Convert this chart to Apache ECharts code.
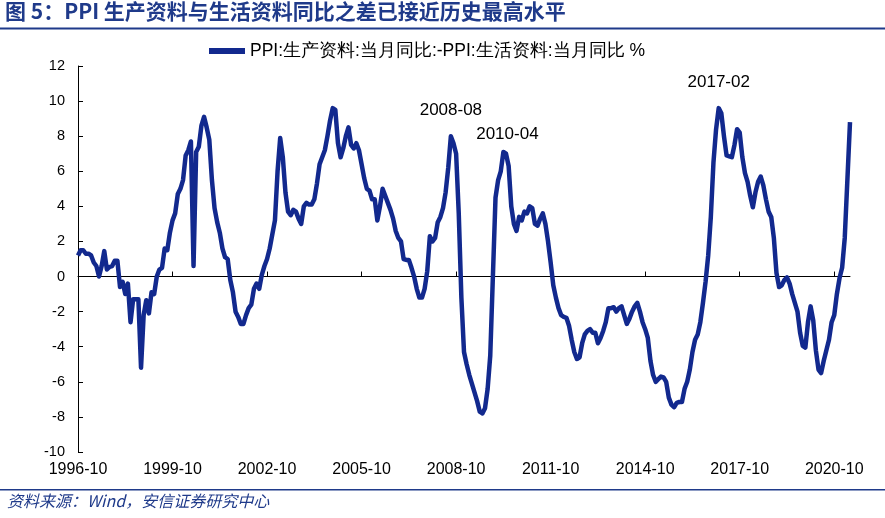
<!DOCTYPE html>
<html><head><meta charset="utf-8">
<script src="https://cdn.jsdelivr.net/npm/echarts@6/dist/echarts.min.js"></script>
<style>html,body{margin:0;padding:0;background:#fff}#c{width:885px;height:518px}</style>
</head><body><div id="c"></div>
<script>
const startYear = 1996, startMonth = 10, monthCount = 295;
const seriesName = 'PPI:生产资料:当月同比:-PPI:生活资料:当月同比 %';
const values = [
 1.2,1.5,1.5,1.3,1.3,1.2,0.8,0.6,0.0,0.6,1.45,0.4,
 0.55,0.6,0.9,0.9,-0.6,-0.3,-1.0,-0.4,-2.6,-1.3,-1.3,-1.3,
 -5.2,-2.2,-1.35,-2.1,-0.9,-1.0,0.0,0.4,0.5,1.6,1.5,2.5,
 3.2,3.6,4.7,5.0,5.5,6.9,7.2,7.7,0.6,7.1,7.4,8.6,
 9.1,8.5,7.8,5.5,3.9,3.1,2.5,1.6,1.1,1.0,-0.2,-0.9,
 -2.0,-2.3,-2.7,-2.7,-2.2,-1.8,-1.6,-0.7,-0.4,-0.7,0.1,0.6,
 1.0,1.6,2.4,3.2,6.0,7.9,6.8,4.8,3.7,3.5,3.8,3.7,
 3.3,3.0,4.0,4.2,4.1,4.1,4.4,5.3,6.4,6.8,7.2,8.0,
 8.9,9.6,9.5,7.6,6.8,7.3,8.0,8.5,7.5,7.3,7.6,7.2,
 6.4,5.6,5.0,4.9,4.4,4.4,3.2,4.0,5.0,4.6,4.2,3.8,
 3.3,2.6,2.2,2.0,1.0,0.95,0.95,0.5,0.0,-0.7,-1.2,-1.2,
 -0.7,0.3,2.3,2.0,2.2,3.1,3.4,3.9,4.8,6.2,8.0,7.6,
 7.0,3.6,-1.2,-4.3,-5.0,-5.6,-6.1,-6.6,-7.1,-7.7,-7.8,-7.5,
 -6.4,-4.5,0.0,4.5,5.5,6.0,7.1,7.0,6.3,4.0,3.0,2.6,
 3.4,3.2,3.7,3.6,4.0,3.9,3.0,2.9,3.3,3.6,3.0,2.0,
 0.8,-0.5,-1.2,-1.8,-2.2,-2.3,-2.35,-2.8,-3.6,-4.3,-4.7,-4.6,
 -3.8,-3.3,-3.1,-3.0,-3.2,-3.2,-3.8,-3.5,-3.1,-2.6,-1.8,-1.8,
 -1.75,-2.0,-1.8,-1.7,-2.2,-2.7,-2.4,-2.0,-1.7,-1.5,-2.0,-2.6,
 -3.0,-3.5,-4.8,-5.6,-6.0,-5.85,-5.7,-5.75,-6.0,-6.9,-7.3,-7.45,
 -7.2,-7.15,-7.15,-6.4,-6.0,-5.3,-4.3,-3.6,-3.3,-2.6,-1.5,-0.3,
 1.2,3.4,6.5,8.4,9.6,9.3,8.0,6.9,6.85,6.8,7.5,8.4,
 8.2,6.8,5.9,5.4,4.6,3.95,4.8,5.4,5.7,5.2,4.4,3.7,
 3.4,2.2,0.2,-0.6,-0.5,-0.2,-0.05,-0.4,-1.0,-1.5,-2.0,-3.2,
 -3.95,-4.05,-2.6,-1.7,-2.5,-4.2,-5.3,-5.5,-4.8,-4.2,-3.6,-2.6,
 -2.2,-1.0,-0.1,0.5,2.2,5.5,8.8
];
const annotations = [
  {date:'2008-08', offset:[0,-26]},
  {date:'2010-04', offset:[4,-18]},
  {date:'2017-02', offset:[0,-26]}
];
const yTicks = {min:-10, max:12, interval:2};

const categories = [];
for (let i = 0; i < monthCount; i++) {
  const t = (startYear * 12 + startMonth - 1) + i;
  const y = Math.floor(t / 12), mo = t % 12 + 1;
  categories.push(y + '-' + (mo < 10 ? '0' + mo : mo));
}
const color = '#12298E';
const font = 'Liberation Sans, Arial, sans-serif';
const chart = echarts.init(document.getElementById('c'), null, {renderer:'canvas'});
chart.setOption({
  animation:false,
  backgroundColor:'#fff',
  graphic:[
    {type:'text', left:5, top:1, style:{text:'图 5：PPI 生产资料与生活资料同比之差已接近历史最高水平', font:'bold 21px "Noto Sans CJK SC", sans-serif', fill:'#1F3A8A'}},
    {type:'rect', shape:{x:0,y:27.5,width:885,height:2}, style:{fill:'#1F3A8A'}},
    {type:'rect', shape:{x:0,y:489,width:885,height:1.5}, style:{fill:'#1F3A8A'}},
    {type:'text', left:7, top:493, style:{text:'资料来源：Wind，安信证券研究中心', font:'italic 16px "Noto Sans CJK SC", sans-serif', fill:'#1F3A8A'}}
  ],
  legend:{
    left:204, top:37, itemWidth:36, itemHeight:6, icon:'rect', itemGap:5,
    textStyle:{fontFamily:font, fontSize:17.5, color:'#000'},
    data:[seriesName]
  },
  grid:{left:78, right:35, top:66, bottom:66},
  xAxis:[
    {type:'category', data:categories, boundaryGap:false,
     axisLine:{onZero:true, lineStyle:{color:'#000', width:1}},
     axisTick:{inside:true, length:5, interval:35, lineStyle:{color:'#000'}},
     axisLabel:{show:false}, splitLine:{show:false}},
    {type:'category', data:categories, boundaryGap:false, position:'bottom',
     axisLine:{show:false, onZero:false}, axisTick:{show:false},
     axisLabel:{interval:35, margin:10, fontFamily:font, fontSize:16, color:'#000'},
     splitLine:{show:false}}
  ],
  yAxis:{type:'value', min:yTicks.min, max:yTicks.max, interval:yTicks.interval,
     axisLine:{show:true, lineStyle:{color:'#000', width:1}},
     axisTick:{show:true, inside:true, length:5, lineStyle:{color:'#000'}},
     axisLabel:{margin:13, fontFamily:font, fontSize:14.5, color:'#000'},
     splitLine:{show:false}},
  series:[{
    name:seriesName, type:'line', data:values, xAxisIndex:0,
    showSymbol:false, symbol:'none',
    lineStyle:{color:color, width:4.5, join:'round'}, itemStyle:{color:color},
    markPoint:{
      symbol:'circle', symbolSize:0,
      label:{show:true, color:'#000', fontFamily:font, fontSize:17},
      data:annotations.map(a => ({
        coord:[a.date, values[categories.indexOf(a.date)]],
        label:{formatter:a.date, offset:a.offset}
      }))
    }
  }]
});
</script></body></html>
